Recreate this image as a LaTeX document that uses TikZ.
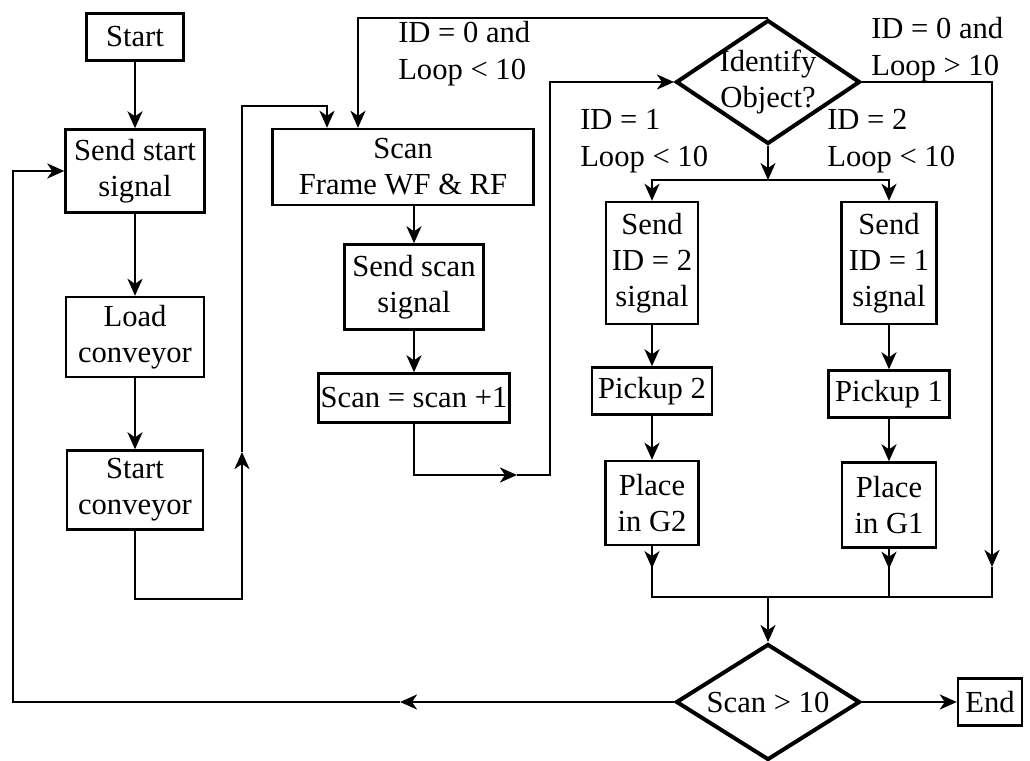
\documentclass[tikz,border=0pt]{standalone}
\usepackage{fontspec}
\setmainfont{Liberation Serif}
\usepackage{tikz}
\usetikzlibrary{arrows.meta, positioning, shapes.geometric, calc}

\begin{document}
\begin{tikzpicture}[x=0.5pt, y=-0.5pt, line width=1.3pt,
      box/.style={draw, line width=1.2pt, align=center, inner sep=0pt,
                  font=\fontsize{15.3}{18}\selectfont},
      decision/.style={draw, line width=2pt, diamond, aspect=1.5,
                  inner sep=-10pt, minimum width=92pt, minimum height=62pt,
                  align=center, font=\fontsize{15.3}{18}\selectfont},
      lbl/.style={align=left, inner sep=0pt,
                  font=\fontsize{15.3}{18.5}\selectfont},
      >={Stealth[length=8.5pt, width=7.5pt, inset=2.5pt]}]
    \useasboundingbox (0,0) rectangle (1030,761);
    % left column
    \node[box, minimum width=48.5pt, minimum height=23.5pt] (start) at (135,37) {Start};
    \node[box, minimum width=69.5pt, minimum height=41.5pt] (sendstart) at (135,171) {Send start\\signal};
    \node[box, minimum width=69pt, minimum height=40pt] (load) at (135,337) {Load\\conveyor};
    \node[box, minimum width=68pt, minimum height=39.5pt] (startconv) at (135,490) {Start\\conveyor};
    % scan column
    \node[box, minimum width=130.5pt, minimum height=38pt] (scan) at (403,167) {Scan\\Frame WF \& RF};
    \node[box, minimum width=69.5pt, minimum height=42.5pt] (sendscan) at (414,287) {Send scan\\signal};
    \node[box, minimum width=95.5pt, minimum height=24.5pt] (scanplus) at (414,398) {Scan = scan +1};
    % decisions
    \node[decision] (ident) at (768,82) {Identify\\Object?};
    \node[decision, minimum height=58pt] (scantest) at (768,702) {Scan > 10};
    \node[box, minimum width=32pt, minimum height=23.5pt] (end) at (990,702) {End};
    % branches
    \node[box, minimum width=46pt, minimum height=61pt] (sendtwo) at (652,263) {Send\\ID = 2\\signal};
    \node[box, minimum width=60pt, minimum height=23.5pt] (picktwo) at (652,391) {Pickup 2};
    \node[box, minimum width=46.5pt, minimum height=42pt] (placetwo) at (652,503) {Place\\in G2};
    \node[box, minimum width=47.5pt, minimum height=61pt] (sendone) at (889,263) {Send\\ID = 1\\signal};
    \node[box, minimum width=60.5pt, minimum height=23.5pt] (pickone) at (889,394) {Pickup 1};
    \node[box, minimum width=47pt, minimum height=42.5pt] (placeone) at (889,505) {Place\\in G1};
    % labels
    \node[lbl, anchor=west] (lblback) at (397,54) {ID = 0 and\\Loop < 10};
    \node[lbl, anchor=west] (lblout) at (870,50) {ID = 0 and\\Loop > 10};
    \node[lbl, anchor=west] (lblone) at (579,141) {ID = 1\\Loop < 10};
    \node[lbl, anchor=west] (lbltwo) at (826,141) {ID = 2\\Loop < 10};

    \draw[->] (start) -- (sendstart);
    \draw[->] (sendstart) -- (load);
    \draw[->] (load) -- (startconv);
    % into the scan box
    \coordinate (railA) at (242,599);
    \coordinate (railAup) at (242,452);
    \coordinate (railAtop) at (327,106);
    \draw[->] (startconv.south) |- (railA) -- (railAup);
    \draw[->] (railAup) |- (railAtop) -- (railAtop |- scan.north);
    \coordinate (backtop) at (358,0);
    \draw[->] (ident.north) -| (backtop |- scan.north);
    \draw[->] (scan.south -| sendscan.north) -- (sendscan.north);
    \draw[->] (sendscan) -- (scanplus);
    % to the identify test
    \coordinate (railB) at (517,475);
    \coordinate (railBx) at (550,0);
    \draw[->] (scanplus.south) |- (railB);
    \draw[->] (railB) -| (railBx |- ident.west) -- (ident.west);
    \coordinate (split) at (768,180);
    \draw[->] (ident.south) -- (split);
    \draw[->] (split) -| (sendtwo.north);
    \draw[->] (split) -| (sendone.north);
    \draw[->] (sendtwo) -- (picktwo);
    \draw[->] (picktwo) -- (placetwo);
    \draw[->] (sendone) -- (pickone);
    \draw[->] (pickone) -- (placeone);
    % merge
    \coordinate (merge) at (768,597);
    \coordinate (railC) at (992,567);
    \draw[->] (placetwo.south) -- ++(0,22);
    \draw (placetwo.south) |- (merge);
    \draw[->] (placeone.south) -- ++(0,20);
    \draw (placeone.south) |- (merge);
    \draw[->] (ident.east) -| (railC);
    \draw (railC) |- (merge);
    \draw[->] (merge) -- (scantest.north);
    % end and loop back
    \draw[->] (scantest.east) -- (end.west);
    \coordinate (loopmid) at (400,702);
    \coordinate (loopcorner) at (13,702);
    \draw[->] (scantest.west) -- (loopmid);
    \draw[->] (loopmid) -- (loopcorner) |- (sendstart.west);
\end{tikzpicture}
\end{document}
